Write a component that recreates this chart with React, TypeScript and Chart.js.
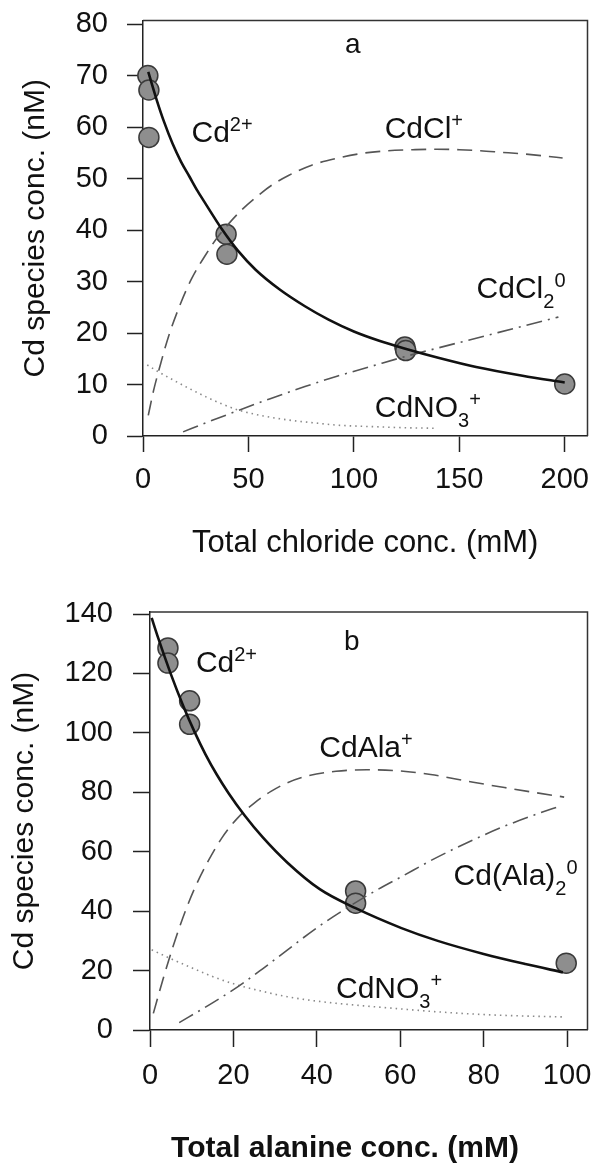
import React, { useEffect, useRef } from 'react';
import { Chart, registerables } from 'chart.js';

Chart.register(...registerables);

const FONT = '"Liberation Sans", Arial, sans-serif';

// ---------- Panel a : chloride ----------
const clTicksX = [0, 50, 100, 150, 200];
const clTicksY = [0, 10, 20, 30, 40, 50, 60, 70, 80];

const clPointsX = [2.3, 2.8, 2.8, 39.4, 39.8, 124.2, 124.6, 200];
const clPointsY = [70, 67.2, 58, 39.2, 35.3, 17.3, 16.6, 10.1];

const clCdX = [2.5, 6.4, 10, 14, 18, 22, 26, 30, 37.7, 45, 53.4, 65, 76.8, 88, 100, 112, 124, 140, 158, 180, 200];
const clCdY = [70.7, 65.4, 61, 56.8, 53.3, 50.4, 47.5, 44.9, 40.0, 36.0, 32.3, 28.4, 25.2, 22.6, 20.3, 18.5, 17.0, 15.2, 13.4, 11.7, 10.4];

const clClX = [2.5, 5, 8, 12, 17.4, 23, 29.9, 35, 40.8, 47, 53.4, 61, 69, 80, 92.5, 104, 116, 128, 139, 150, 160, 170, 180, 190, 199];
const clClY = [4, 8.8, 13.5, 19.2, 25.3, 30.5, 35.3, 38.4, 41.3, 44.0, 46.3, 48.7, 50.6, 52.6, 54.0, 54.9, 55.4, 55.6, 55.7, 55.6, 55.4, 55.1, 54.8, 54.4, 54.0];

const clCl2X = [19, 30, 45.5, 60, 76.8, 92, 108, 124, 139, 158, 178, 197];
const clCl2Y = [0.8, 2.6, 5.0, 7.2, 9.6, 11.6, 13.5, 15.4, 17.0, 19.0, 21.1, 23.1];

const clNO3X = [2, 8, 14.2, 22, 29.9, 37, 45.5, 57, 69, 80, 92.5, 110, 125, 139];
const clNO3Y = [13.8, 12.3, 10.9, 9.2, 7.6, 6.3, 5.0, 3.9, 3.1, 2.6, 2.1, 1.8, 1.6, 1.5];

// ---------- Panel b : alanine ----------
const alaTicksX = [0, 20, 40, 60, 80, 100];
const alaTicksY = [0, 20, 40, 60, 80, 100, 120, 140];

const alaPointsX = [4.3, 4.3, 9.5, 9.5, 49.3, 49.3, 99.8];
const alaPointsY = [128.6, 123.5, 110.8, 102.9, 46.8, 42.7, 22.5];

const alaCdX = [0.4, 2, 5, 8, 10.6, 13.3, 16, 18.8, 22.7, 27, 32.9, 40.7, 49.3, 60.3, 69, 80, 90, 99];
const alaCdY = [138.7, 131.8, 119.8, 109, 100.6, 92.8, 86, 79.8, 72.2, 64.9, 56.4, 47.4, 41.0, 34.3, 30.0, 25.6, 22.2, 19.4];

const alaAlaX = [0.8, 3, 5.5, 8.6, 11, 14, 17.2, 21.1, 25, 29, 32.9, 38, 44.6, 52, 60, 67.3, 77.5, 85, 92, 99.3];
const alaAlaY = [5.6, 16.5, 28, 40.5, 48.6, 57, 64.6, 71.5, 76.4, 80.3, 83.2, 85.6, 87.1, 87.6, 87.2, 86.0, 83.4, 81.6, 80, 78.4];

const alaAla2X = [7, 14, 21.1, 27, 32.9, 40, 47.7, 54, 60.3, 68.1, 77.5, 85, 92, 98.6];
const alaAla2Y = [2.5, 8.3, 14.6, 20.6, 26.9, 34.4, 41.5, 46.8, 51.6, 57.6, 64, 68.6, 72.3, 75.5];

const alaNO3X = [0.4, 5, 9.4, 15, 21.1, 27, 32.9, 38.5, 44.6, 54, 61, 68.1, 80, 90, 99];
const alaNO3Y = [27, 24, 21.3, 18, 15.1, 13, 11.2, 10, 9.0, 7.8, 7, 6.2, 5.2, 4.7, 4.4];

// ---------- Text ----------
type Part = { t: string; k?: 'sup' | 'sub' };
type Label = { x: number; y: number; parts: Part[]; size?: number };

const clLabels: Label[] = [
  { x: 95.8, y: 74.4, parts: [{ t: 'a' }], size: 28 },
  { x: 23, y: 57.1, parts: [{ t: 'Cd' }, { t: '2+', k: 'sup' }] },
  { x: 114.6, y: 57.9, parts: [{ t: 'CdCl' }, { t: '+', k: 'sup' }] },
  { x: 158.2, y: 26.8, parts: [{ t: 'CdCl' }, { t: '2', k: 'sub' }, { t: '0', k: 'sup' }] },
  { x: 109.9, y: 3.7, parts: [{ t: 'CdNO' }, { t: '3', k: 'sub' }, { t: '+', k: 'sup' }] },
];

const alaLabels: Label[] = [
  { x: 46.5, y: 127.9, parts: [{ t: 'b' }], size: 28 },
  { x: 11.0, y: 120.5, parts: [{ t: 'Cd' }, { t: '2+', k: 'sup' }] },
  { x: 40.6, y: 91.9, parts: [{ t: 'CdAla' }, { t: '+', k: 'sup' }] },
  { x: 72.8, y: 48.8, parts: [{ t: 'Cd(Ala)' }, { t: '2', k: 'sub' }, { t: '0', k: 'sup' }] },
  { x: 44.6, y: 10.8, parts: [{ t: 'CdNO' }, { t: '3', k: 'sub' }, { t: '+', k: 'sup' }] },
];

const yTitle = 'Cd species conc. (nM)';
const clXTitle = 'Total chloride conc. (mM)';
const alaXTitle = 'Total alanine conc. (mM)';

const xy = (xs: number[], ys: number[]) => xs.map((x, i) => ({ x, y: ys[i] }));

const makeRichText = (labels: Label[]) => ({
  id: 'richText',
  afterDatasetsDraw(chart: any) {
    const { ctx, scales } = chart;
    ctx.save();
    ctx.fillStyle = '#111';
    ctx.textAlign = 'left';
    ctx.textBaseline = 'alphabetic';
    for (const L of labels) {
      let px = scales.x.getPixelForValue(L.x);
      const py = scales.y.getPixelForValue(L.y);
      for (const p of L.parts) {
        const size = p.k ? 20 : L.size ?? 30;
        ctx.font = `${size}px ${FONT}`;
        const dy = p.k === 'sup' ? -11 : p.k === 'sub' ? 10 : 0;
        ctx.fillText(p.t, px, py + dy);
        px += ctx.measureText(p.t).width;
      }
    }
    ctx.restore();
  },
});

const framePlugin = {
  id: 'frame',
  afterDraw(chart: any) {
    const { ctx, chartArea } = chart;
    ctx.save();
    ctx.strokeStyle = '#333';
    ctx.lineWidth = 1.5;
    ctx.beginPath();
    ctx.moveTo(chartArea.left, chartArea.top);
    ctx.lineTo(chartArea.right, chartArea.top);
    ctx.lineTo(chartArea.right, chartArea.bottom);
    ctx.stroke();
    ctx.restore();
  },
};

const makeCaption = (text: string, dx: number, y: number, font: string) => ({
  id: 'caption',
  afterDraw(chart: any) {
    const { ctx, chartArea } = chart;
    ctx.save();
    ctx.fillStyle = '#111';
    ctx.font = font;
    ctx.textAlign = 'center';
    ctx.textBaseline = 'middle';
    ctx.fillText(text, chartArea.left + dx, y);
    ctx.restore();
  },
});

type PanelCfg = {
  pointsX: number[]; pointsY: number[];
  cdX: number[]; cdY: number[];
  c1X: number[]; c1Y: number[];
  c2X: number[]; c2Y: number[];
  no3X: number[]; no3Y: number[];
  ticksX: number[]; ticksY: number[];
  xMax: number; yMax: number;
  yWidth: number; xHeight: number;
  padTop: number; padRight: number;
  tickLen: number; yTickPad: number; xTickPad: number;
  yTitlePad: number;
  xTitle?: string; xTitlePad?: number;
  labels: Label[];
  extraPlugins: any[];
};

const buildConfig = (c: PanelCfg): any => {
  const lineBase = { pointRadius: 0, fill: false, cubicInterpolationMode: 'monotone' as const };
  return {
    type: 'line',
    data: {
      datasets: [
        { ...lineBase, data: xy(c.cdX, c.cdY), borderColor: '#111', borderWidth: 2.6 },
        { ...lineBase, data: xy(c.c1X, c.c1Y), borderColor: '#555', borderWidth: 1.6, borderDash: [15, 8] },
        { ...lineBase, data: xy(c.c2X, c.c2Y), borderColor: '#555', borderWidth: 1.6, borderDash: [16, 6, 2, 6] },
        { ...lineBase, data: xy(c.no3X, c.no3Y), borderColor: '#8a8a8a', borderWidth: 1.6, borderDash: [1.5, 4] },
        {
          data: xy(c.pointsX, c.pointsY), showLine: false, clip: false,
          pointRadius: 10, pointBackgroundColor: '#8e8e8e', pointBorderColor: '#3a3a3a', pointBorderWidth: 1.5,
        },
      ],
    },
    options: {
      animation: false,
      responsive: false,
      devicePixelRatio: 1,
      events: [],
      layout: { padding: { top: c.padTop, right: c.padRight, bottom: 0, left: 0 } },
      plugins: { legend: { display: false }, tooltip: { enabled: false } },
      scales: {
        x: {
          type: 'linear', min: 0, max: c.xMax,
          afterBuildTicks: (s: any) => { s.ticks = c.ticksX.map((v) => ({ value: v })); },
          afterFit: (s: any) => { s.height = c.xHeight; s.paddingLeft = 0; s.paddingRight = 0; },
          grid: { drawOnChartArea: false, drawTicks: true, tickLength: c.tickLen, tickColor: '#222', tickWidth: 1.5 },
          border: { display: true, color: '#222', width: 1.5 },
          ticks: { font: { family: FONT, size: 29 }, color: '#111', padding: c.xTickPad, maxRotation: 0, autoSkip: false },
          title: c.xTitle
            ? { display: true, text: c.xTitle, font: { family: FONT, size: 31 }, color: '#111', padding: { top: 0, bottom: c.xTitlePad } }
            : { display: false },
        },
        y: {
          type: 'linear', min: 0, max: c.yMax,
          afterBuildTicks: (s: any) => { s.ticks = c.ticksY.map((v) => ({ value: v })); },
          afterFit: (s: any) => { s.width = c.yWidth; s.paddingTop = 0; s.paddingBottom = 0; },
          grid: { drawOnChartArea: false, drawTicks: true, tickLength: c.tickLen, tickColor: '#222', tickWidth: 1.5 },
          border: { display: true, color: '#222', width: 1.5 },
          ticks: { font: { family: FONT, size: 29 }, color: '#111', padding: c.yTickPad, autoSkip: false },
          title: { display: true, text: yTitle, font: { family: FONT, size: 30 }, color: '#111', padding: { top: c.yTitlePad, bottom: 0 } },
        },
      },
    },
    plugins: [framePlugin, makeRichText(c.labels), ...c.extraPlugins],
  };
};

const panelA: PanelCfg = {
  pointsX: clPointsX, pointsY: clPointsY,
  cdX: clCdX, cdY: clCdY, c1X: clClX, c1Y: clClY, c2X: clCl2X, c2Y: clCl2Y, no3X: clNO3X, no3Y: clNO3Y,
  ticksX: clTicksX, ticksY: clTicksY,
  xMax: 210.8, yMax: 80.7,
  yWidth: 143, xHeight: 148, padTop: 20.5, padRight: 7,
  tickLen: 16, yTickPad: 19, xTickPad: 11, yTitlePad: 18,
  xTitle: clXTitle, xTitlePad: 22,
  labels: clLabels, extraPlugins: [],
};

const panelB: PanelCfg = {
  pointsX: alaPointsX, pointsY: alaPointsY,
  cdX: alaCdX, cdY: alaCdY, c1X: alaAlaX, c1Y: alaAlaY, c2X: alaAla2X, c2Y: alaAla2Y, no3X: alaNO3X, no3Y: alaNO3Y,
  ticksX: alaTicksX, ticksY: alaTicksY,
  xMax: 104.9, yMax: 140.7,
  yWidth: 150, xHeight: 138, padTop: 28, padRight: 2,
  tickLen: 17, yTickPad: 20, xTickPad: 12, yTitlePad: 7,
  labels: alaLabels,
  extraPlugins: [makeCaption(alaXTitle, 195, 564.5, `bold 30px ${FONT}`)],
};

function Panel({ cfg, top }: { cfg: PanelCfg; top: number }) {
  const ref = useRef<HTMLCanvasElement | null>(null);
  useEffect(() => {
    if (!ref.current) return;
    const chart = new Chart(ref.current, buildConfig(cfg));
    return () => chart.destroy();
  }, [cfg]);
  return (
    <canvas
      ref={ref}
      width={599}
      height={584}
      style={{ position: 'absolute', left: 0, top, width: 599, height: 584, display: 'block' }}
    />
  );
}

export default function App() {
  return (
    <div style={{ position: 'absolute', left: 0, top: 0, width: 599, height: 1168, background: '#fff' }}>
      <Panel cfg={panelA} top={0} />
      <Panel cfg={panelB} top={584} />
    </div>
  );
}
